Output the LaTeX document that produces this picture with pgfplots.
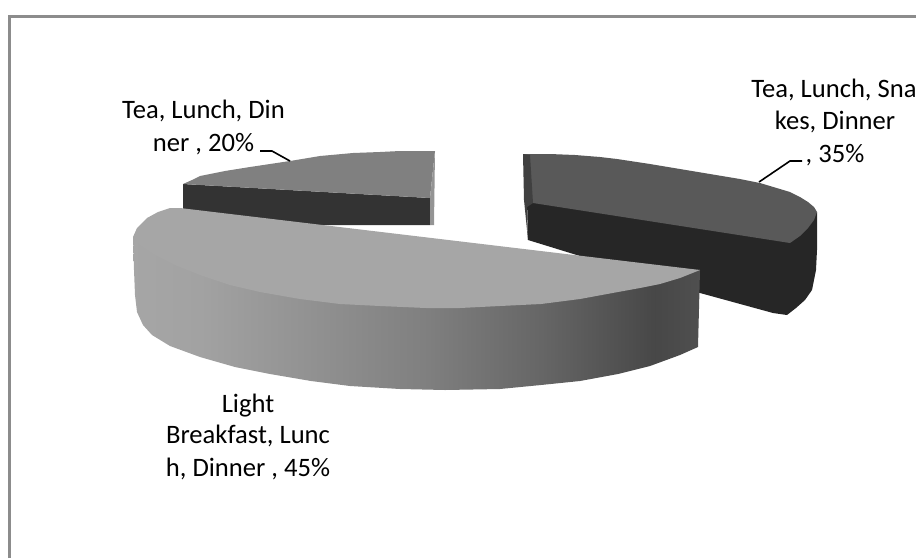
\documentclass[border=0pt]{standalone}
\usepackage{pgfplots}
\pgfplotsset{compat=1.18}
\usepackage{fontspec}
\setmainfont{Carlito}
\tikzset{lbl/.style={font=\fontsize{26.6}{32}\selectfont, text=black, inner sep=0pt, anchor=base}}
% Horizontal light falloff along the rim of the largest slice
\pgfdeclarehorizontalshading{rimramp}{100bp}{
  rgb(0bp)=(.65,.65,.65);
  rgb(25bp)=(.65,.65,.65);
  rgb(31bp)=(.635,.635,.635);
  rgb(40bp)=(.575,.575,.575);
  rgb(50.8bp)=(.50,.50,.50);
  rgb(61bp)=(.40,.40,.40);
  rgb(71bp)=(.28,.28,.28);
  rgb(75bp)=(.31,.31,.31);
  rgb(100bp)=(.31,.31,.31)}
\begin{document}
\begin{tikzpicture}
\useasboundingbox (0,0) rectangle (916pt,558pt);
\clip (0,0) rectangle (916pt,558pt);
\begin{axis}[
  at={(0,0)}, anchor=south west,
  scale only axis, width=916pt, height=558pt,
  xmin=0, xmax=916, ymin=0, ymax=558, y dir=reverse,
  hide axis, clip=true
]
% Chart frame: only the left and top sides fall inside the page
\addplot[draw=black!45, line width=3pt] coordinates {(9,558) (9,16) (916,16)};

% Tea, Lunch, Dinner: 20%
\addplot[fill=black!80, draw=none] coordinates {(183,184) (430,198) (430,225) (300,225) (183,209)} -- cycle;
\addplot[fill=black!50, draw=none] coordinates {(183,184) (192,180) (200,176) (225,171) (250,167) (270,164)
  (290,161) (320,156) (353,153) (380,152) (400,151) (435,151) (430,198)} -- cycle;
\addplot[fill=black!42, draw=none] coordinates {(430,198) (435,151) (434,225) (430,225)} -- cycle;

% Tea, Lunch, Snakes, Dinner: 35%
\addplot[fill=black!85, draw=none] coordinates {(527,200) (533,202) (790,242) (817,212) (817,250) (816,270) (812,290)
  (805,300) (796,308) (787,315) (773,313) (700,293) (528,240)} -- cycle;
\addplot[fill=black!65, draw=none] coordinates {(523,154) (550,154) (575,155) (600,157) (617,159) (650,164)
  (680,169) (710,174) (740,179) (760,183) (780,189) (790,192) (800,197) (808,202) (814,207) (817,212)
  (814,220) (808,228) (800,236) (790,243) (533,203)} -- cycle;
\addplot[fill=black!75, draw=none] coordinates {(523,154) (530,155) (533,203) (527,207) (528,240) (524,200)} -- cycle;

% Light Breakfast, Lunch, Dinner: 45%
\addplot[shade, shading=rimramp, draw=none] coordinates {(133,237) (134,270) (135,295) (137,312) (143,325) (152,335)
  (170,346) (200,357) (235,367) (270,374) (311,381) (350,386) (400,389) (445,390) (500,389)
  (541,385) (580,381) (618,374) (650,366) (680,355) (698,347) (700,270)} -- cycle;
\addplot[fill=black!35, draw=none] coordinates {(180,208) (700,270) (680,278) (660,284) (640,288) (618,292)
  (580,299) (541,304) (500,306) (460,308) (426,308) (380,306) (340,304) (300,299) (260,292)
  (230,285) (200,275) (175,265) (155,255) (140,245) (133,237) (137,228) (147,218) (158,212) (170,208)} -- cycle;

% Leader lines
\addplot[black, line width=1.6pt] coordinates {(260,151) (272,151) (290,161)};
\addplot[black, line width=1.6pt] coordinates {(802,161) (790,161) (759,182)};

% Data labels
\node[lbl] at (axis cs:203.5,118) {Tea, Lunch, Din};
\node[lbl] at (axis cs:203.5,151) {ner , 20\%};
\node[lbl] at (axis cs:834,97) {Tea, Lunch, Sna};
\node[lbl] at (axis cs:835,129) {kes, Dinner};
\node[lbl] at (axis cs:835,162) {, 35\%};
\node[lbl] at (axis cs:248,412) {Light};
\node[lbl] at (axis cs:248,443) {Breakfast, Lunc};
\node[lbl] at (axis cs:248,476) {h, Dinner , 45\%};
\end{axis}
\end{tikzpicture}
\end{document}
